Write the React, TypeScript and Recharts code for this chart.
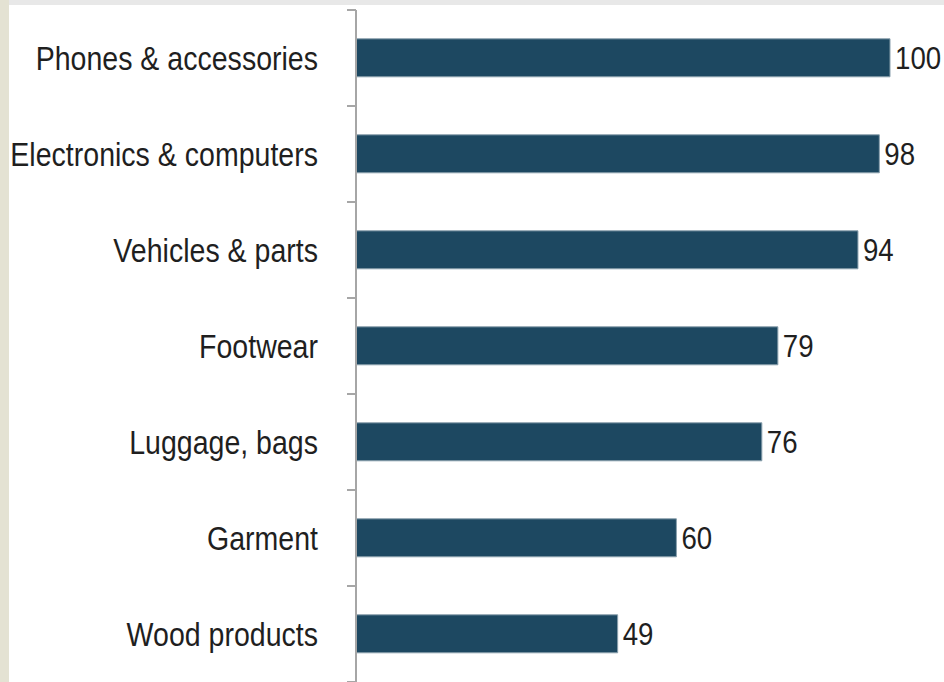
import { BarChart, Bar, XAxis, YAxis, LabelList } from 'recharts';

const categories = [
    'Phones & accessories',
    'Electronics & computers',
    'Vehicles & parts',
    'Footwear',
    'Luggage, bags',
    'Garment',
    'Wood products'
];
const values = [100, 98, 94, 79, 76, 60, 49];

const data = categories.map((name, i) => ({ name, value: values[i] }));

const CHART_W = 944;
const CHART_H = 682;
const MARGIN = { top: 10, right: 54, bottom: 0, left: 0 };
const BAND = (CHART_H - MARGIN.top - MARGIN.bottom) / categories.length;
const FONT = "'Liberation Sans', Arial, sans-serif";
const NARROW = 0.865; // fake an Arial Narrow look
const TEXT_COLOR = '#1f1f1f';
const AXIS_GRAY = '#a6a6a6';

// category labels plus the little boundary ticks between categories
function CategoryTick(props: any) {
    const { x, y, payload } = props;
    const axisX = x + 29 + 9;
    return (
        <g>
            <text
                transform={`translate(${x},${y}) scale(${NARROW},1)`}
                dy="0.355em"
                textAnchor="end"
                fill={TEXT_COLOR}
                fontSize={33}
                fontFamily={FONT}
            >
                {payload.value}
            </text>
            <line x1={axisX - 9} x2={axisX} y1={y - BAND / 2} y2={y - BAND / 2} stroke={AXIS_GRAY} strokeWidth={2} />
            <line x1={axisX - 9} x2={axisX} y1={y + BAND / 2} y2={y + BAND / 2} stroke={AXIS_GRAY} strokeWidth={2} />
        </g>
    );
}

function ValueLabel(props: any) {
    const { x, y, width, height, value } = props;
    return (
        <text
            transform={`translate(${x + width + 5},${y + height / 2}) scale(${NARROW},1)`}
            dy="0.355em"
            textAnchor="start"
            fill={TEXT_COLOR}
            fontSize={32}
            fontFamily={FONT}
        >
            {value}
        </text>
    );
}

export default function App() {
    return (
        <div
            style={{
                position: 'fixed',
                left: 0,
                top: 0,
                width: CHART_W,
                height: CHART_H,
                background: '#e4e2d3',
                overflow: 'hidden'
            }}
        >
            <div style={{ position: 'absolute', left: 9, top: 0, right: 0, height: 5, background: '#e8e8e8' }} />
            <div style={{ position: 'absolute', left: 9, top: 5, right: 0, bottom: 0, background: '#ffffff' }} />
            <div style={{ position: 'absolute', left: 0, top: 0 }}>
                <BarChart
                    width={CHART_W}
                    height={CHART_H}
                    data={data}
                    layout="vertical"
                    margin={MARGIN}
                    barCategoryGap="30%"
                >
                    <XAxis type="number" domain={[0, 100]} hide />
                    <YAxis
                        type="category"
                        dataKey="name"
                        width={356}
                        tickSize={9}
                        tickMargin={29}
                        tickLine={false}
                        axisLine={{ stroke: AXIS_GRAY, strokeWidth: 2 }}
                        tick={<CategoryTick />}
                        interval={0}
                    />
                    <Bar dataKey="value" fill="#1d4861" stroke="#8aa0ad" strokeWidth={1} isAnimationActive={false}>
                        <LabelList dataKey="value" content={<ValueLabel />} />
                    </Bar>
                </BarChart>
            </div>
        </div>
    );
}
